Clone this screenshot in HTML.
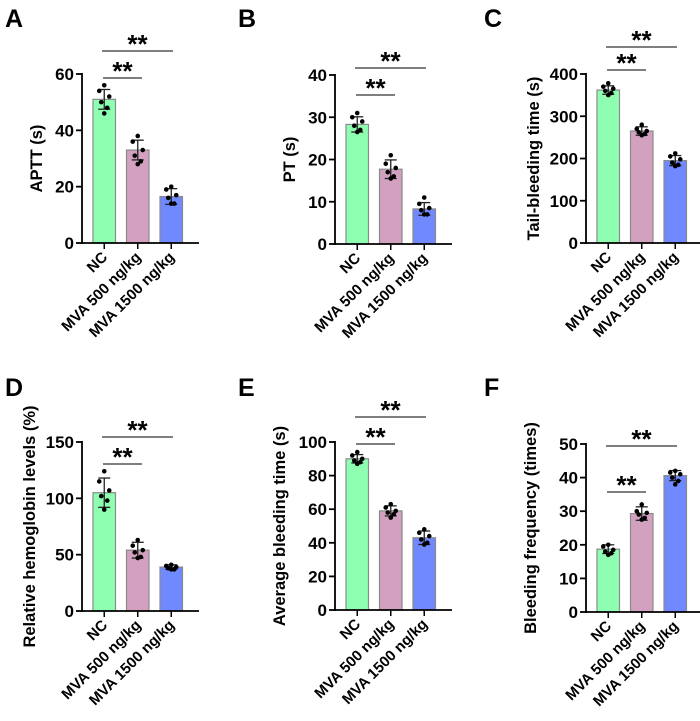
<!DOCTYPE html>
<html><head><meta charset="utf-8"><style>
body{margin:0;background:#fff}
svg{display:block;font-family:"Liberation Sans",Arial,sans-serif;font-weight:bold}
</style></head><body>
<svg id="c" width="700" height="721" viewBox="0 0 700 721"></svg>
<script>
const categories=["NC","MVA 500 ng/kg","MVA 1500 ng/kg"];
const panelLetters=["A","B","C","D","E","F"];
const yTitles=["APTT (s)","PT (s)","Tail-bleeding time (s)","Relative hemoglobin levels (%)","Average bleeding time (s)","Bleeding frequency (times)"];
const yMaxes=[60,40,400,150,100,50];
const yTicks=[[0,20,40,60],[0,10,20,30,40],[0,100,200,300,400],[0,50,100,150],[0,20,40,60,80,100],[0,10,20,30,40,50]];
const meansA=[51,33,16.5],sdA=[3.5,3.5,2.8],ptsA=[[56,54,52,50,48,46],[38,36,33,31,29,28],[20,19,17,16,14,14]];
const meansB=[28.3,17.7,8.3],sdB=[1.8,2.2,1.5],ptsB=[[31,30,29,28,27,26.5],[21,19,18,17,16,15.5],[11,9.5,8.5,8,7,7]];
const meansC=[362,265,195],sdC=[10,10,12],ptsC=[[378,370,365,360,355,350],[280,270,265,262,258,255],[212,205,198,190,185,182]];
const meansD=[105,54,39],sdD=[13,7,2],ptsD=[[124,115,107,102,98,90],[63,58,54,52,48,47],[41,40,39,38,37,37]];
const meansE=[90,59,43],sdE=[2.5,3,4],ptsE=[[94,92,90,89,88,87],[63,61,59,58,57,55],[48,46,44,42,40,39]];
const meansF=[18.7,29.3,40.6],sdF=[1.3,2,1.5],ptsF=[[20,19.5,18.5,18,17.5,17],[32,30,29.5,29,28,27.5],[42,41.5,41,40,39,38]];
const allMeans=[meansA,meansB,meansC,meansD,meansE,meansF];
const allSd=[sdA,sdB,sdC,sdD,sdE,sdF];
const allPts=[ptsA,ptsB,ptsC,ptsD,ptsE,ptsF];
const axisX=[82,335,586,82,335,586];
const y0s=[243,244,243,611,610,612];
const yTops=[74,75,74,442,442,444];
const sig1Y=[78,95,70,464,444,492];
const sig2Y=[51,68,47,437,417,446];
const titleOff=[40,40,47,47,50,50];
const fills=["#8effb0","#d2a1bf","#7089ff"];
const NS="http://www.w3.org/2000/svg";
const svg=document.getElementById('c');
function mk(t,a,p){const e=document.createElementNS(NS,t);for(const k in a)e.setAttribute(k,a[k]);(p||svg).appendChild(e);return e;}
for(let p=0;p<6;p++){
  const g=mk('g',{});
  
  
  const ax=axisX[p],y0=y0s[p],yt=yTops[p],ym=yMaxes[p];
  const ys=v=>y0-(v/ym)*(y0-yt);
  const lx=p%3===0?5:(p%3===1?238:484);
  const ly=p<3?27:396;
  const L=mk('text',{x:lx,y:ly,'font-size':25},g);L.textContent=panelLetters[p];
  
  
  for(let i=0;i<3;i++){
    const bx=ax+11+i*33.5,bw=22.5,cx=bx+bw/2;
    const m=allMeans[p][i],sd=allSd[p][i];
    const r=mk('rect',{x:bx,y:ys(m),width:bw,height:y0-ys(m),fill:fills[i],stroke:'#8a8a8a','stroke-width':1.2},g);
    
    
    mk('line',{x1:cx,x2:cx,y1:ys(m+sd),y2:ys(m-sd),stroke:'#222','stroke-width':1.3},g);
    mk('line',{x1:cx-6,x2:cx+6,y1:ys(m+sd),y2:ys(m+sd),stroke:'#222','stroke-width':1.3},g);
    mk('line',{x1:cx-6,x2:cx+6,y1:ys(m-sd),y2:ys(m-sd),stroke:'#222','stroke-width':1.3},g);
    const offs=[0,-5,5,-3,3,0];
    allPts[p][i].forEach((v,k)=>{
      const d=mk('circle',{cx:cx+offs[k],cy:ys(v),r:2.3,fill:'#000'},g);
      
      
    });
    mk('line',{x1:cx,x2:cx,y1:y0,y2:y0+6,stroke:'#000','stroke-width':1.5},g);
    const t=mk('text',{x:cx+4,y:y0+15,'font-size':15,'text-anchor':'end',transform:`rotate(-45 ${cx+4} ${y0+15})`},g);
    t.textContent=categories[i];
    
    
  }
  mk('line',{x1:ax,x2:ax,y1:yt-1,y2:y0+1,stroke:'#000','stroke-width':1.8},g);
  mk('line',{x1:ax-1,x2:ax+117,y1:y0,y2:y0,stroke:'#000','stroke-width':1.8},g);
  yTicks[p].forEach(v=>{
    mk('line',{x1:ax-6,x2:ax,y1:ys(v),y2:ys(v),stroke:'#000','stroke-width':1.8},g);
    const t=mk('text',{x:ax-8,y:ys(v)+6,'font-size':17,'text-anchor':'end'},g);t.textContent=v;
    
    
  });
  const tx=ax-titleOff[p],ty=(yt+y0)/2;
  const tt=mk('text',{x:tx,y:ty,'font-size':16.5,'text-anchor':'middle',transform:`rotate(-90 ${tx} ${ty})`},g);
  tt.textContent=yTitles[p];
  
  
  [[sig1Y[p],ax+21,ax+60],[sig2Y[p],ax+20,ax+91]].forEach(([y,a,b])=>{
    const l=mk('line',{x1:a,x2:b,y1:y,y2:y,stroke:'#333','stroke-width':1.2},g);
    
    
    const s=mk('text',{x:(a+b)/2,y:y+2,'font-size':26,'text-anchor':'middle'},g);s.textContent='**';
    
    
  });
}
</script>
</body></html>
